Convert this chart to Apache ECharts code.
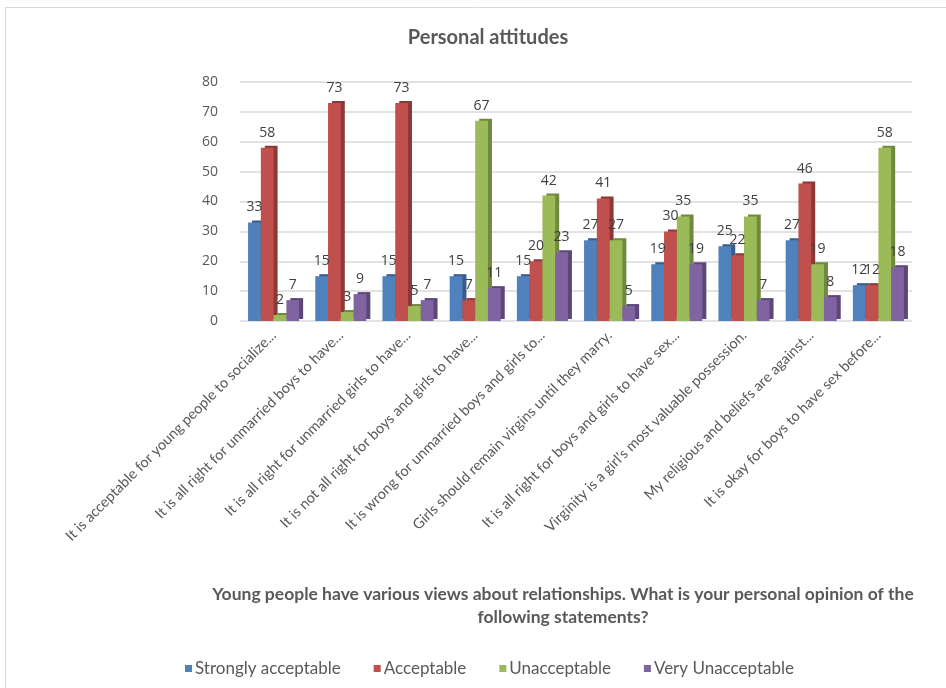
<!DOCTYPE html>
<html>
<head>
<meta charset="utf-8">
<script src="https://cdn.jsdelivr.net/npm/echarts@6/dist/echarts.min.js"></script>
<style>
html,body{margin:0;padding:0;background:#fff;}
#c{width:946px;height:688px;}
</style>
</head>
<body>
<div id="c"></div>
<script>
const categories = [
  "It is acceptable for young people to socialize...",
  "It is all right for unmarried boys to have...",
  "It is all right for unmarried girls to have...",
  "It is not all right for boys and girls to have...",
  "It is wrong for unmarried boys and girls to...",
  "Girls should remain virgins until they marry.",
  "It is all right for boys and girls to have sex...",
  "Virginity is a girl\u2019s most valuable possession.",
  "My religious and beliefs are against...",
  "It is okay for boys to have sex before..."
];
const stronglyAcceptable = [33, 15, 15, 15, 15, 27, 19, 25, 27, 12];
const acceptable = [58, 73, 73, 7, 20, 41, 30, 22, 46, 12];
const unacceptable = [2, 3, 5, 67, 42, 27, 35, 35, 19, 58];
const veryUnacceptable = [7, 9, 7, 11, 23, 5, 19, 7, 8, 18];
const seriesNames = ["Strongly acceptable", "Acceptable", "Unacceptable", "Very Unacceptable"];
const yTicks = [0, 10, 20, 30, 40, 50, 60, 70, 80];

const colors = ["#4F81BD", "#C0504D", "#9BBB59", "#8064A2"];
const sideColors = ["#385D8A", "#8C3836", "#71893F", "#5C4776"];
const font = "'Open Sans', 'Liberation Sans', sans-serif";
const narrow = "Lato, 'Open Sans', sans-serif";
const seriesData = [stronglyAcceptable, acceptable, unacceptable, veryUnacceptable];

const chart = echarts.init(document.getElementById('c'));
chart.setOption({
  animation: false,
  color: colors,
  graphic: [{
    type: 'rect', shape: {x: 5.5, y: 7.5, width: 960, height: 700},
    style: {fill: 'none', stroke: '#D9D9D9', lineWidth: 1}, silent: true, z: -10
  }],
  title: [{
    text: 'Personal attitudes', left: 483, top: 23, textAlign: 'center',
    textStyle: {fontFamily: narrow, fontSize: 20, fontWeight: 'bold', color: '#595959'}
  }, {
    text: 'Young people have various views about relationships. What is your personal opinion of the\nfollowing statements?',
    left: 558, top: 578, textAlign: 'center',
    textStyle: {fontFamily: narrow, fontSize: 17.5, fontWeight: 'bold', color: '#595959', lineHeight: 23, align: 'center'}
  }],
  legend: {
    data: seriesNames, left: 180, top: 655, itemWidth: 7, itemHeight: 7, itemGap: 33,
    icon: 'rect',
    textStyle: {fontFamily: narrow, fontSize: 17, color: '#595959', padding: [0,0,0,-2]}
  },
  grid: {left: 240, right: 34, top: 82, bottom: 367, containLabel: false},
  xAxis: {
    type: 'category', data: categories,
    axisLine: {show: false}, axisTick: {show: false},
    axisLabel: {rotate: 45, interval: 0, fontFamily: narrow, fontSize: 14.5, color: '#595959', margin: 12}
  },
  yAxis: {
    type: 'value', min: 0, max: 80, interval: 10,
    axisLine: {show: false}, axisTick: {show: false},
    axisLabel: {fontFamily: font, fontSize: 14, color: '#595959', margin: 22,
      formatter: v => yTicks.includes(v) ? String(v) : ''},
    splitLine: {lineStyle: {color: '#D9D9D9', width: 1.5}}
  },
  series: seriesData.map((d, i) => ({
    name: seriesNames[i], type: 'bar', data: d,
    barGap: '0%', barCategoryGap: '24%',
    itemStyle: {color: colors[i], shadowColor: sideColors[i], shadowOffsetX: 4, shadowOffsetY: -2, shadowBlur: 0},
    label: {show: true, position: 'top', distance: 8, fontFamily: font, fontSize: 14, color: '#404040'}
  }))
});
</script>
</body>
</html>
